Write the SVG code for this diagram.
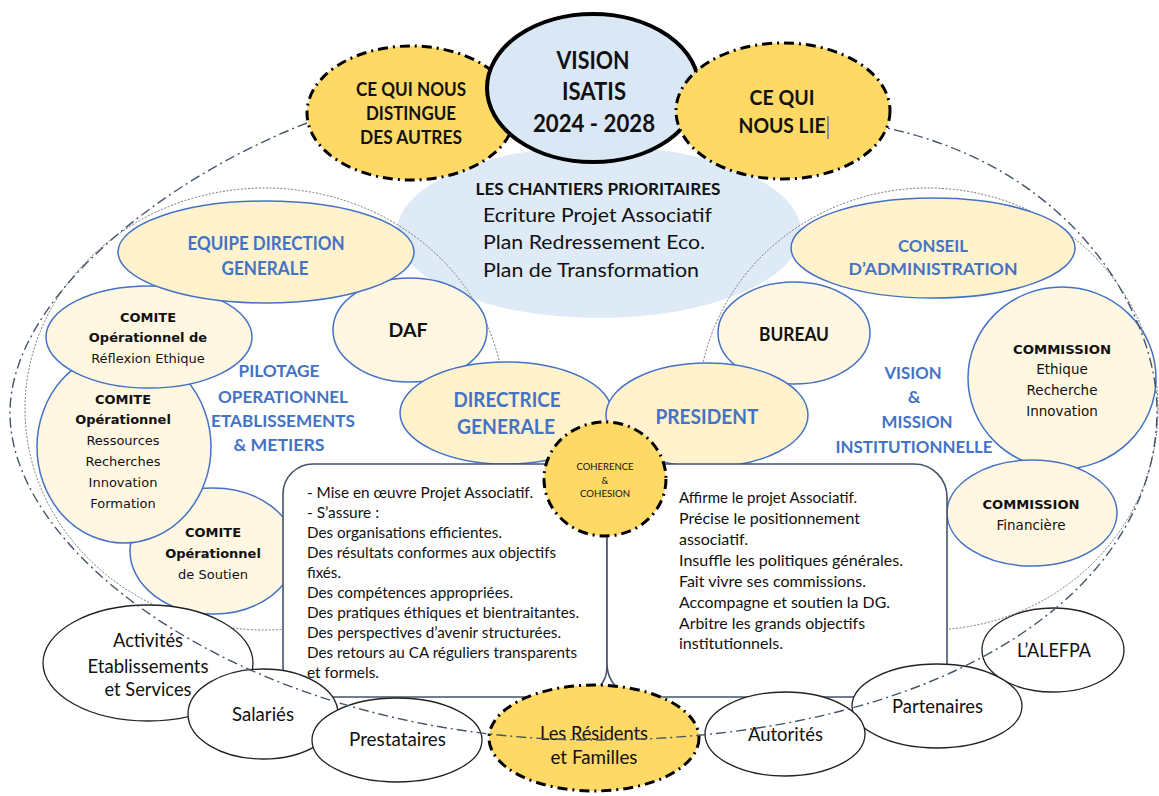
<svg xmlns="http://www.w3.org/2000/svg" width="1159" height="796" viewBox="0 0 1159 796">
<style>
.t{font-family:Lato,'Open Sans',sans-serif;fill:#111}
.b{font-weight:700}
.bl{fill:#4472C4}
.c{text-anchor:middle}
.dv{font-family:'DejaVu Sans',Verdana,sans-serif;fill:#111}
.n1{fill:#FFF2CC;stroke:#4472C4;stroke-width:1.5}
.n2{fill:#FFF7E2;stroke:#4472C4;stroke-width:1.5}
.gold{fill:#FFD966;stroke:#000;stroke-width:3;stroke-dasharray:10 5 2 5}
.wh{fill:#fff;stroke:#222;stroke-width:1.3}
.inner{fill:none;stroke:#666;stroke-width:0.9;stroke-dasharray:2 1.6}
.outer{fill:none;stroke:#44546A;stroke-width:1.4;stroke-dasharray:10 4 2 4}
.box{fill:#fff;stroke:#44546A;stroke-width:1.6}
</style>
<rect width="1159" height="796" fill="#fff"/>

<g id="chantiers">
<ellipse cx="599" cy="232" rx="202" ry="86" fill="#DEEBF7"/>
<text class="t b c" x="598" y="195" font-size="17" textLength="245" lengthAdjust="spacingAndGlyphs">LES CHANTIERS PRIORITAIRES</text>
<text class="t" x="483" y="222" font-size="18.5" textLength="229" lengthAdjust="spacingAndGlyphs">Ecriture Projet Associatif</text>
<text class="t" x="483" y="249" font-size="18.5" textLength="222" lengthAdjust="spacingAndGlyphs">Plan Redressement Eco.</text>
<text class="t" x="483" y="277" font-size="18.5" textLength="216" lengthAdjust="spacingAndGlyphs">Plan de Transformation</text>
</g>

<g id="groups-inner">
<ellipse class="inner" cx="265" cy="409" rx="240" ry="221"/>
<ellipse class="inner" cx="928" cy="409" rx="230" ry="221"/>
</g>

<g id="distingue">
<ellipse class="gold" cx="411" cy="113" rx="104" ry="67"/>
<text class="t b c" x="411" y="96" font-size="18" textLength="110" lengthAdjust="spacingAndGlyphs">CE QUI NOUS</text>
<text class="t b c" x="411" y="120" font-size="18" textLength="90" lengthAdjust="spacingAndGlyphs">DISTINGUE</text>
<text class="t b c" x="411" y="144" font-size="18" textLength="102" lengthAdjust="spacingAndGlyphs">DES AUTRES</text>
</g>

<g id="vision">
<ellipse cx="593" cy="88" rx="106" ry="74" fill="#DAE7F5" stroke="#000" stroke-width="4"/>
<text class="t b c" x="593" y="69" font-size="24" textLength="73" lengthAdjust="spacingAndGlyphs">VISION</text>
<text class="t b c" x="594" y="100" font-size="24" textLength="64" lengthAdjust="spacingAndGlyphs">ISATIS</text>
<text class="t b c" x="594" y="132" font-size="24" textLength="122" lengthAdjust="spacingAndGlyphs">2024 - 2028</text>
</g>

<g id="lie">
<ellipse class="gold" cx="783" cy="111" rx="107" ry="68"/>
<text class="t b c" x="782" y="105" font-size="20" textLength="65" lengthAdjust="spacingAndGlyphs">CE QUI</text>
<text class="t b c" x="782" y="133" font-size="20" textLength="87" lengthAdjust="spacingAndGlyphs">NOUS LIE</text>
<line x1="828" y1="116" x2="828" y2="139" stroke="#2040C8" stroke-width="1"/>
</g>

<g id="comite-soutien">
<ellipse class="n2" cx="213" cy="551" rx="83" ry="63"/>
<text class="dv b c" x="213" y="537" font-size="13">COMITE</text>
<text class="dv b c" x="213" y="558" font-size="13">Opérationnel</text>
<text class="dv c" x="213" y="579" font-size="13">de Soutien</text>
</g>

<g id="comite-ressources">
<ellipse class="n2" cx="124" cy="447" rx="87" ry="96"/>
<text class="dv b c" x="123" y="404" font-size="13">COMITE</text>
<text class="dv b c" x="123" y="424" font-size="13">Opérationnel</text>
<text class="dv c" x="123" y="445" font-size="13">Ressources</text>
<text class="dv c" x="123" y="466" font-size="13">Recherches</text>
<text class="dv c" x="123" y="487" font-size="13">Innovation</text>
<text class="dv c" x="123" y="508" font-size="13">Formation</text>
</g>

<g id="comite-reflexion">
<ellipse class="n2" cx="149" cy="337" rx="103" ry="51"/>
<text class="dv b c" x="148" y="322" font-size="13">COMITE</text>
<text class="dv b c" x="148" y="342" font-size="13">Opérationnel de</text>
<text class="dv c" x="148" y="363" font-size="13">Réflexion Ethique</text>
</g>

<g id="daf">
<ellipse class="n2" cx="410" cy="330" rx="77" ry="52"/>
<text class="t b c" x="408" y="337" font-size="19" textLength="39" lengthAdjust="spacingAndGlyphs">DAF</text>
</g>

<g id="equipe">
<ellipse class="n1" cx="266" cy="252" rx="148" ry="51"/>
<text class="t b c bl" x="266" y="250" font-size="18" textLength="157" lengthAdjust="spacingAndGlyphs">EQUIPE DIRECTION</text>
<text class="t b c bl" x="265" y="275" font-size="18" textLength="87" lengthAdjust="spacingAndGlyphs">GENERALE</text>
</g>

<g id="directrice">
<ellipse class="n1" cx="506" cy="413" rx="106" ry="51"/>
<text class="t b c bl" x="507" y="407" font-size="20" textLength="107" lengthAdjust="spacingAndGlyphs">DIRECTRICE</text>
<text class="t b c bl" x="506" y="434" font-size="20" textLength="98" lengthAdjust="spacingAndGlyphs">GENERALE</text>
</g>

<g id="pilotage">
<text class="t b c bl" x="279" y="377" font-size="17.5" textLength="81" lengthAdjust="spacingAndGlyphs">PILOTAGE</text>
<text class="t b c bl" x="283" y="403" font-size="17.5" textLength="130" lengthAdjust="spacingAndGlyphs">OPERATIONNEL</text>
<text class="t b c bl" x="283" y="427" font-size="17.5" textLength="144" lengthAdjust="spacingAndGlyphs">ETABLISSEMENTS</text>
<text class="t b c bl" x="279" y="451" font-size="17.5" textLength="91" lengthAdjust="spacingAndGlyphs">&amp; METIERS</text>
</g>

<g id="bureau">
<ellipse class="n2" cx="794" cy="333" rx="76" ry="51"/>
<text class="t b c" x="794" y="341" font-size="19" textLength="70" lengthAdjust="spacingAndGlyphs">BUREAU</text>
</g>

<g id="commission-ethique">
<ellipse class="n2" cx="1062" cy="378" rx="94" ry="91"/>
<text class="dv b c" x="1062" y="354" font-size="12.5" textLength="98" lengthAdjust="spacingAndGlyphs">COMMISSION</text>
<text class="dv c" x="1062" y="374" font-size="13.5">Ethique</text>
<text class="dv c" x="1062" y="395" font-size="13.5">Recherche</text>
<text class="dv c" x="1062" y="416" font-size="13.5">Innovation</text>
</g>

<g id="conseil">
<ellipse class="n1" cx="933" cy="248" rx="142" ry="50"/>
<text class="t b c bl" x="933" y="252" font-size="17.5" textLength="70" lengthAdjust="spacingAndGlyphs">CONSEIL</text>
<text class="t b c bl" x="933" y="275" font-size="17.5" textLength="169" lengthAdjust="spacingAndGlyphs">D’ADMINISTRATION</text>
</g>

<g id="commission-financiere">
<ellipse class="n2" cx="1032" cy="513" rx="85" ry="53"/>
<text class="dv b c" x="1031" y="509" font-size="12.5" textLength="97" lengthAdjust="spacingAndGlyphs">COMMISSION</text>
<text class="dv c" x="1031" y="530" font-size="13.5">Financière</text>
</g>

<g id="president">
<ellipse class="n1" cx="707" cy="415" rx="101" ry="52"/>
<text class="t b c bl" x="707" y="424" font-size="20" textLength="103" lengthAdjust="spacingAndGlyphs">PRESIDENT</text>
</g>

<g id="vision-mission">
<text class="t b c bl" x="913" y="379" font-size="17.5" textLength="57" lengthAdjust="spacingAndGlyphs">VISION</text>
<text class="t b c bl" x="914" y="403" font-size="17.5">&amp;</text>
<text class="t b c bl" x="917" y="428" font-size="17.5" textLength="71" lengthAdjust="spacingAndGlyphs">MISSION</text>
<text class="t b c bl" x="914" y="453" font-size="17.5" textLength="157" lengthAdjust="spacingAndGlyphs">INSTITUTIONNELLE</text>
</g>

<g id="box-dg">
<rect class="box" x="283" y="464" width="324" height="233" rx="30" ry="30"/>
<g class="t" font-size="15">
<text x="307" y="498" textLength="226" lengthAdjust="spacingAndGlyphs">- Mise en œuvre Projet Associatif.</text>
<text x="307" y="518" textLength="72" lengthAdjust="spacingAndGlyphs">- S’assure :</text>
<text x="307" y="538" textLength="195" lengthAdjust="spacingAndGlyphs">Des organisations efficientes.</text>
<text x="307" y="558" textLength="249" lengthAdjust="spacingAndGlyphs">Des résultats conformes aux objectifs</text>
<text x="307" y="578" textLength="34" lengthAdjust="spacingAndGlyphs">fixés.</text>
<text x="307" y="598" textLength="206" lengthAdjust="spacingAndGlyphs">Des compétences appropriées.</text>
<text x="307" y="618" textLength="272" lengthAdjust="spacingAndGlyphs">Des pratiques éthiques et bientraitantes.</text>
<text x="307" y="638" textLength="254" lengthAdjust="spacingAndGlyphs">Des perspectives d’avenir structurées.</text>
<text x="307" y="658" textLength="270" lengthAdjust="spacingAndGlyphs">Des retours au CA réguliers transparents</text>
<text x="307" y="678" textLength="72" lengthAdjust="spacingAndGlyphs">et formels.</text>
</g>
</g>

<g id="box-president">
<rect class="box" x="607" y="464" width="340" height="233" rx="33" ry="33"/>
<g class="t" font-size="15">
<text x="679" y="503" textLength="178" lengthAdjust="spacingAndGlyphs">Affirme le projet Associatif.</text>
<text x="679" y="524" textLength="181" lengthAdjust="spacingAndGlyphs">Précise le positionnement</text>
<text x="679" y="545" textLength="69" lengthAdjust="spacingAndGlyphs">associatif.</text>
<text x="679" y="566" textLength="224" lengthAdjust="spacingAndGlyphs">Insuffle les politiques générales.</text>
<text x="679" y="587" textLength="187" lengthAdjust="spacingAndGlyphs">Fait vivre ses commissions.</text>
<text x="679" y="608" textLength="211" lengthAdjust="spacingAndGlyphs">Accompagne et soutien la DG.</text>
<text x="679" y="629" textLength="186" lengthAdjust="spacingAndGlyphs">Arbitre les grands objectifs</text>
<text x="679" y="649" textLength="104" lengthAdjust="spacingAndGlyphs">institutionnels.</text>
</g>
</g>

<g id="coherence">
<ellipse class="gold" cx="605" cy="479" rx="61" ry="57"/>
<text class="t c" x="605" y="469.5" font-size="9.5" textLength="57" lengthAdjust="spacingAndGlyphs">COHERENCE</text>
<text class="t c" x="605" y="483.5" font-size="9.5">&amp;</text>
<text class="t c" x="605" y="497" font-size="9.5" textLength="50" lengthAdjust="spacingAndGlyphs">COHESION</text>
</g>

<g id="activites">
<ellipse class="wh" cx="148" cy="663" rx="105" ry="58"/>
<text class="t c" x="148" y="647" font-size="18.5" textLength="70" lengthAdjust="spacingAndGlyphs">Activités</text>
<text class="t c" x="148" y="673" font-size="18.5" textLength="121" lengthAdjust="spacingAndGlyphs">Etablissements</text>
<text class="t c" x="148" y="696" font-size="18.5" textLength="87" lengthAdjust="spacingAndGlyphs">et Services</text>
</g>
<g id="salaries">
<ellipse class="wh" cx="263" cy="714" rx="75" ry="45"/>
<text class="t c" x="263" y="721" font-size="18.5" textLength="62" lengthAdjust="spacingAndGlyphs">Salariés</text>
</g>
<g id="prestataires">
<ellipse class="wh" cx="397" cy="740" rx="85" ry="42"/>
<text class="t c" x="397.5" y="746" font-size="18.5" textLength="97" lengthAdjust="spacingAndGlyphs">Prestataires</text>
</g>
<g id="alefpa">
<ellipse class="wh" cx="1053" cy="650" rx="71" ry="42"/>
<text class="t c" x="1054" y="657" font-size="18.5" textLength="74" lengthAdjust="spacingAndGlyphs">L’ALEFPA</text>
</g>
<g id="partenaires">
<ellipse class="wh" cx="937" cy="706" rx="85" ry="42"/>
<text class="t c" x="937.5" y="713" font-size="18.5" textLength="91" lengthAdjust="spacingAndGlyphs">Partenaires</text>
</g>
<g id="autorites">
<ellipse class="wh" cx="785" cy="734" rx="80" ry="42"/>
<text class="t c" x="785.5" y="741" font-size="18.5" textLength="75" lengthAdjust="spacingAndGlyphs">Autorités</text>
</g>
<g id="residents">
<ellipse class="gold" cx="594" cy="738" rx="105" ry="53"/>
<text class="t c" x="594" y="740" font-size="18.5" textLength="108" lengthAdjust="spacingAndGlyphs">Les Résidents</text>
<text class="t c" x="594" y="764" font-size="18.5" textLength="87" lengthAdjust="spacingAndGlyphs">et Familles</text>
</g>

<g id="connectors">
<path class="outer" d="M307,123 C160,180 10,300 10,413 C10,560 260,740 595,740 C930,740 1157,600 1157,410 C1157,320 1080,170 887,128"/>
</g>
</svg>
